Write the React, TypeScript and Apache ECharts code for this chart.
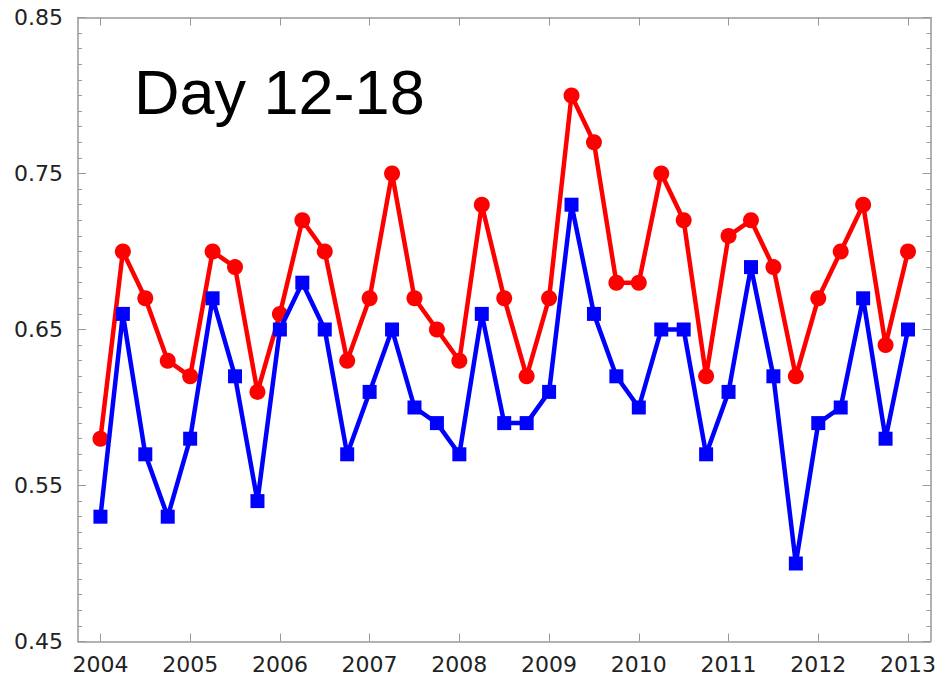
import React, { useEffect, useRef } from "react";
import * as echarts from "echarts";

const quarters = [
  2004, 2004.25, 2004.5, 2004.75, 2005, 2005.25, 2005.5, 2005.75,
  2006, 2006.25, 2006.5, 2006.75, 2007, 2007.25, 2007.5, 2007.75,
  2008, 2008.25, 2008.5, 2008.75, 2009, 2009.25, 2009.5, 2009.75,
  2010, 2010.25, 2010.5, 2010.75, 2011, 2011.25, 2011.5, 2011.75,
  2012, 2012.25, 2012.5, 2012.75, 2013,
];

const redValues = [
  0.58, 0.70, 0.67, 0.63, 0.62, 0.70, 0.69, 0.61,
  0.66, 0.72, 0.70, 0.63, 0.67, 0.75, 0.67, 0.65,
  0.63, 0.73, 0.67, 0.62, 0.67, 0.80, 0.77, 0.68,
  0.68, 0.75, 0.72, 0.62, 0.71, 0.72, 0.69, 0.62,
  0.67, 0.70, 0.73, 0.64, 0.70,
];

const blueValues = [
  0.53, 0.66, 0.57, 0.53, 0.58, 0.67, 0.62, 0.54,
  0.65, 0.68, 0.65, 0.57, 0.61, 0.65, 0.60, 0.59,
  0.57, 0.66, 0.59, 0.59, 0.61, 0.73, 0.66, 0.62,
  0.60, 0.65, 0.65, 0.57, 0.61, 0.69, 0.62, 0.50,
  0.59, 0.60, 0.67, 0.58, 0.65,
];

const yearTicks = [2004, 2005, 2006, 2007, 2008, 2009, 2010, 2011, 2012, 2013];
const titleText = "Day 12-18";

const AXIS_COLOR = "#999999";
const LABEL_FONT = "DejaVu Sans";

export default function App() {
  const ref = useRef<HTMLDivElement>(null);

  useEffect(() => {
    document.body.style.margin = "0";
    if (!ref.current) return;
    const chart = echarts.init(ref.current, undefined, { renderer: "svg" });

    const axisLine = { show: true, lineStyle: { color: AXIS_COLOR, width: 1.5 } };

    const xBase = {
      type: "value" as const,
      min: 2003.75,
      max: 2013.25,
      splitLine: { show: false },
      axisLine,
      axisTick: {
        show: true,
        inside: true,
        length: 8,
        customValues: yearTicks,
        lineStyle: { color: AXIS_COLOR, width: 1 },
      },
    };

    const yBase = {
      type: "value" as const,
      min: 0.45,
      max: 0.85,
      interval: 0.1,
      splitLine: { show: false },
      axisLine,
      axisTick: { show: true, inside: true, length: 8, lineStyle: { color: AXIS_COLOR, width: 1 } },
      minorTick: { show: true, splitNumber: 10, length: 4, lineStyle: { color: AXIS_COLOR, width: 1 } },
      minorSplitLine: { show: false },
    };

    chart.setOption({
      animation: false,
      backgroundColor: "#ffffff",
      grid: { left: 78, right: 7, top: 17.5, bottom: 34.5, containLabel: false },
      xAxis: [
        {
          ...xBase,
          position: "bottom",
          axisLabel: {
            show: true,
            customValues: yearTicks,
            margin: 12,
            fontFamily: LABEL_FONT,
            fontSize: 22,
            color: "#222222",
            formatter: (v: number) => String(Math.round(v)),
          },
        },
        { ...xBase, position: "top", axisLabel: { show: false } },
      ],
      yAxis: [
        {
          ...yBase,
          position: "left",
          axisLabel: {
            show: true,
            margin: 15,
            fontFamily: LABEL_FONT,
            fontSize: 22,
            color: "#222222",
            formatter: (v: number) => v.toFixed(2),
          },
        },
        { ...yBase, position: "right", axisLabel: { show: false } },
      ],
      graphic: [
        {
          type: "text",
          left: 134,
          top: 60,
          style: {
            text: titleText,
            fontFamily: "Liberation Sans",
            fontSize: 63,
            fill: "#000000",
          },
        },
      ],
      series: [
        {
          name: "red",
          type: "line",
          xAxisIndex: 0,
          yAxisIndex: 0,
          data: quarters.map((q, i) => [q, redValues[i]]),
          symbol: "circle",
          symbolSize: 16,
          lineStyle: { color: "#ff0000", width: 4.5 },
          itemStyle: { color: "#ff0000" },
          z: 2,
        },
        {
          name: "blue",
          type: "line",
          xAxisIndex: 0,
          yAxisIndex: 0,
          data: quarters.map((q, i) => [q, blueValues[i]]),
          symbol: "rect",
          symbolSize: 14,
          lineStyle: { color: "#0000ff", width: 4.5 },
          itemStyle: { color: "#0000ff" },
          z: 3,
        },
      ],
    });

    return () => chart.dispose();
  }, []);

  return <div ref={ref} style={{ width: 939, height: 676 }} />;
}
